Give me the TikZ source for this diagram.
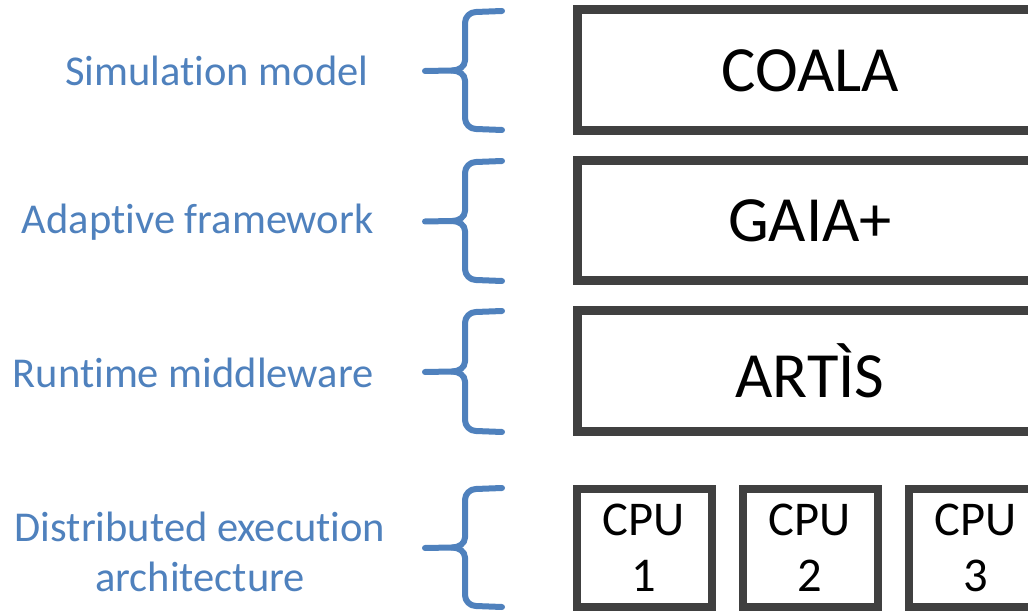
\documentclass[tikz,border=0pt]{standalone}
\usepackage{fontspec}
\setmainfont{Carlito}[Ligatures=NoCommon]
\usetikzlibrary{positioning}
\definecolor{lblue}{RGB}{79,129,189}
\definecolor{bgray}{RGB}{64,64,64}
\tikzset{stack/.style={x=1pt,y=-1pt}}
\tikzset{layerbox/.style={draw=bgray,line width=9pt,outer sep=0pt,inner sep=0pt,
           minimum width=466pt,minimum height=121pt,font=\fontsize{64.5}{70}\selectfont},
         cpubox/.style={draw=bgray,line width=8pt,outer sep=0pt,inner sep=0pt,align=center,
           minimum width=135pt,minimum height=118pt,font=\fontsize{48.5}{56}\selectfont},
         lbl/.style={lblue,font=\fontsize{42.5}{50}\selectfont},
         brace/.style={lblue,line width=6pt,line cap=round,line join=round}}

\begin{document}
\begin{tikzpicture}[stack]
    \path[use as bounding box,clip] (0,0) rectangle (1028,612);
    % layers
    \node[layerbox] (coala) at (810,70.5) {COALA};
    \node[layerbox,minimum height=120pt] (gaia) at (810,221) {GAIA+};
    \node[layerbox,minimum height=120pt] (artis) at (810,371) {ARTÌS};
    \node[cpubox] (cpu1) at (644,548) {CPU\\1};
    \node[cpubox,right=31pt of cpu1] (cpu2) {CPU\\2};
    \node[cpubox,right=31pt of cpu2] (cpu3) {CPU\\3};
    % braces
    \foreach \t/\b in {11/130,161/281,311/432,488/607}{
        \pgfmathsetmacro{\m}{(\t+\b)/2}
        \draw[brace] (502,\t) -- (476,{\t+1}) to[out=180,in=90] (465,{\t+12})
            -- (465,{\m-10}) to[out=-90,in=0] (452,\m) -- (425,{\m+0.5});
        \draw[brace] (502,\b) -- (476,{\b-1}) to[out=180,in=-90] (465,{\b-12})
            -- (465,{\m+10}) to[out=90,in=0] (452,\m);
    }
    % labels
    \node[lbl,anchor=east] (model) at (372,71) {Simulation model};
    \node[lbl,anchor=east] (frame) at (377,222) {Adaptive framework};
    \node[lbl,anchor=east] (middle) at (377,373) {Runtime middleware};
    \node[lbl,align=center] (arch) at (200,552) {Distributed execution\\architecture};
\end{tikzpicture}
\end{document}
